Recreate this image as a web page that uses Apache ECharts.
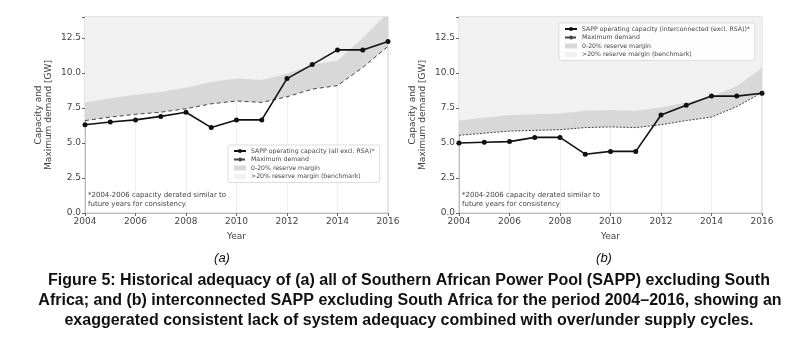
<!DOCTYPE html>
<html>
<head>
<meta charset="utf-8">
<script src="https://cdn.jsdelivr.net/npm/echarts@6/dist/echarts.min.js"></script>
<style>
  html, body { margin: 0; padding: 0; background: #fff; }
  #main { width: 796px; height: 348px; }
</style>
</head>
<body>
<div id="main"></div>
<script>
var years = [2004, 2005, 2006, 2007, 2008, 2009, 2010, 2011, 2012, 2013, 2014, 2015, 2016];
var yTicks = [0, 2.5, 5, 7.5, 10, 12.5];

// (a) all of SAPP excl. RSA
var capA = [6.3, 6.5, 6.65, 6.9, 7.2, 6.1, 6.65, 6.65, 9.6, 10.6, 11.65, 11.65, 12.25];
var demA = [6.6, 6.85, 7.05, 7.2, 7.45, 7.8, 8.0, 7.9, 8.3, 8.85, 9.1, 10.4, 11.9];
var resA = [7.9, 8.2, 8.45, 8.65, 8.95, 9.35, 9.6, 9.5, 9.95, 10.6, 10.9, 12.5, 14.3];

// (b) interconnected SAPP excl. RSA
var capB = [5.0, 5.05, 5.1, 5.4, 5.4, 4.2, 4.4, 4.4, 7.0, 7.7, 8.35, 8.35, 8.55];
var demB = [5.55, 5.7, 5.85, 5.9, 5.95, 6.1, 6.15, 6.1, 6.3, 6.6, 6.85, 7.6, 8.6];
var resB = [6.6, 6.8, 7.0, 7.05, 7.1, 7.3, 7.35, 7.3, 7.55, 7.9, 8.3, 9.05, 10.35];

var capNameA = 'SAPP operating capacity (all excl. RSA)*';
var capNameB = 'SAPP operating capacity (interconnected (excl. RSA))*';
var demName = 'Maximum demand';
var bandName = '0-20% reserve margin';
var lightName = '>20% reserve margin (benchmark)';

var txt = '#444';
var font = 'DejaVu Sans';

function pairs(vals) {
	return years.map(function (y, i) { return [y, vals[i]]; });
}

function panelSeries(idx, cap, dem, res, capName, dash) {
	return [
		// grey fill from demand up to the top, then the light one covers above the 20% line
		{
			name: bandName, type: 'line', xAxisIndex: idx, yAxisIndex: idx,
			data: pairs(dem), symbol: 'none', lineStyle: {width: 0},
			itemStyle: {color: '#d8d8d8'},
			areaStyle: {color: '#d8d8d8', opacity: 1, origin: 'end'}, z: 1
		},
		{
			name: lightName, type: 'line', xAxisIndex: idx, yAxisIndex: idx,
			data: pairs(res), symbol: 'none', lineStyle: {width: 0},
			itemStyle: {color: '#f1f1f1'},
			areaStyle: {color: '#f1f1f1', opacity: 1, origin: 'end'}, z: 2
		},
		{
			name: demName, type: 'line', xAxisIndex: idx, yAxisIndex: idx,
			data: pairs(dem), symbol: 'none',
			lineStyle: {color: '#444', width: 1, type: dash},
			itemStyle: {color: '#444'}, z: 3
		},
		{
			name: capName, type: 'line', xAxisIndex: idx, yAxisIndex: idx,
			data: pairs(cap), symbol: 'circle', symbolSize: 5,
			lineStyle: {color: '#111', width: 1.6},
			itemStyle: {color: '#111'}, z: 4
		}
	];
}

function xAx(idx) {
	return {
		type: 'value', gridIndex: idx, min: 2004, max: 2016, interval: 2,
		name: 'Year', nameLocation: 'middle', nameGap: 19,
		nameTextStyle: {color: txt, fontSize: 9, fontFamily: font},
		axisLine: {show: true, lineStyle: {color: '#bbb'}},
		axisTick: {show: true, length: 3, lineStyle: {color: '#666'}},
		axisLabel: {color: txt, fontSize: 9, fontFamily: font, margin: 4,
			formatter: function (v) { return String(v); }},
		splitLine: {show: true, lineStyle: {color: '#ececec', width: 0.8}}
	};
}
function yAx(idx) {
	return {
		type: 'value', gridIndex: idx, min: 0, max: 14, interval: 2.5,
		name: 'Capacity and\nMaximum demand [GW]', nameLocation: 'middle', nameGap: 31,
		nameTextStyle: {color: txt, fontSize: 9, fontFamily: font, lineHeight: 10},
		axisLine: {show: true, lineStyle: {color: '#bbb'}},
		axisTick: {show: true, length: 3, lineStyle: {color: '#666'}},
		axisLabel: {color: txt, fontSize: 9, fontFamily: font, margin: 4,
			formatter: function (v) { return yTicks.indexOf(v) >= 0 ? v.toFixed(1) : ''; }},
		splitLine: {show: false}
	};
}
function legendFor(left, top, capName) {
	return {
		left: left, top: top, orient: 'vertical', selectedMode: false,
		data: [
			{name: capName},
			{name: demName},
			{name: bandName, icon: 'rect'},
			{name: lightName, icon: 'rect'}
		],
		itemWidth: 12, itemHeight: 5, itemGap: 2.5, padding: [3, 5],
		backgroundColor: 'rgba(255,255,255,0.85)', borderColor: '#ddd', borderWidth: 1, borderRadius: 2,
		textStyle: {color: txt, fontSize: 6.2, fontFamily: font}
	};
}
function noteText(x) {
	return {
		type: 'text', left: x, top: 191,
		style: {text: '*2004-2006 capacity derated similar to\nfuture years for consistency',
			fill: txt, font: '7px "DejaVu Sans"', lineHeight: 9}
	};
}

var capFont = 'bold 16px "Liberation Sans", Arial, sans-serif';
var myChart = echarts.init(document.getElementById('main'));
var option = {
	animation: false,
	backgroundColor: '#fff',
	grid: [
		{left: 85, top: 17, width: 303, height: 196, show: true, borderColor: '#c8c8c8', borderWidth: 1},
		{left: 459, top: 17, width: 303, height: 196, show: true, borderColor: '#c8c8c8', borderWidth: 1}
	],
	xAxis: [xAx(0), xAx(1)],
	yAxis: [yAx(0), yAx(1)],
	legend: [
		legendFor(228, 145, capNameA),
		legendFor(559, 23, capNameB)
	],
	series: panelSeries(0, capA, demA, resA, capNameA, [4, 3])
		.concat(panelSeries(1, capB, demB, resB, capNameB, [2, 1.5])),
	graphic: [
		noteText(88),
		noteText(462),
		{type: 'text', x: 222, y: 258, style: {text: '(a)', fill: '#111', font: 'italic 13px "Liberation Sans"', textAlign: 'center', textVerticalAlign: 'middle'}},
		{type: 'text', x: 604, y: 258, style: {text: '(b)', fill: '#111', font: 'italic 13px "Liberation Sans"', textAlign: 'center', textVerticalAlign: 'middle'}},
		{type: 'text', x: 409, y: 281, style: {text: 'Figure 5: Historical adequacy of (a) all of Southern African Power Pool (SAPP) excluding South', fill: '#111', font: capFont, textAlign: 'center', textVerticalAlign: 'middle'}},
		{type: 'text', x: 410, y: 301, style: {text: 'Africa; and (b) interconnected SAPP excluding South Africa for the period 2004\u20132016, showing an', fill: '#111', font: capFont, textAlign: 'center', textVerticalAlign: 'middle'}},
		{type: 'text', x: 409, y: 321, style: {text: 'exaggerated consistent lack of system adequacy combined with over/under supply cycles.', fill: '#111', font: capFont, textAlign: 'center', textVerticalAlign: 'middle'}}
	]
};
myChart.setOption(option);
</script>
</body>
</html>
